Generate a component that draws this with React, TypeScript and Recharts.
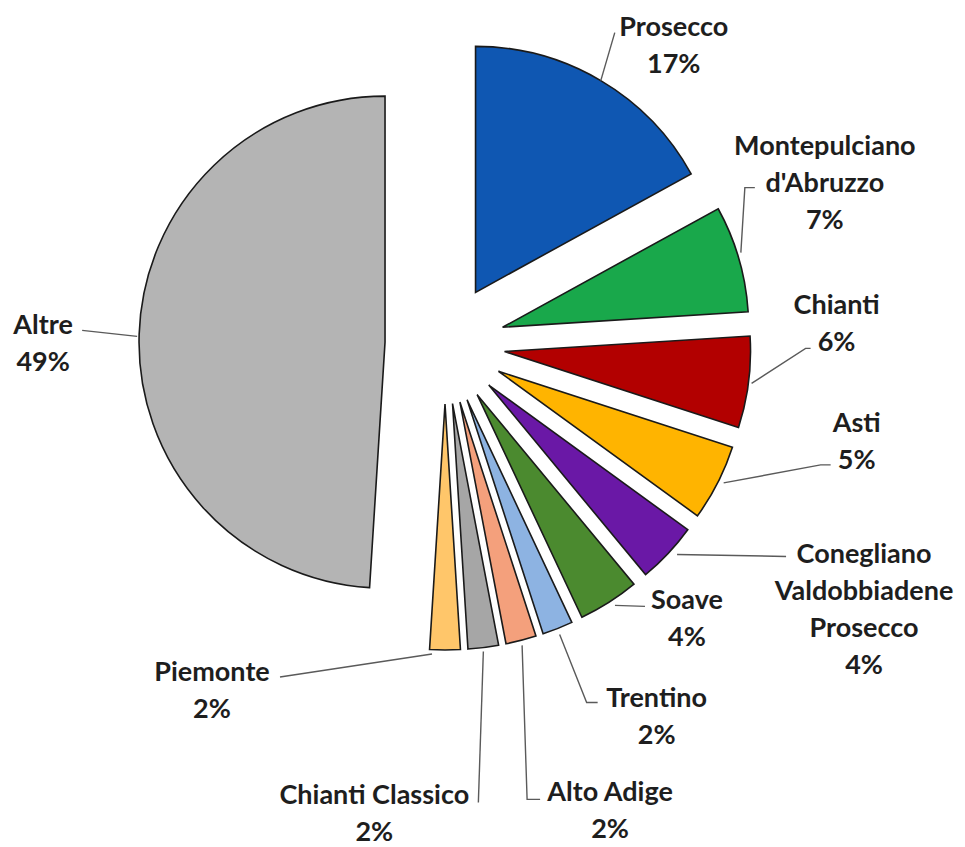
import { PieChart, Pie, Cell, Sector } from "recharts";

const CATEGORIES = [
  "Prosecco",
  "Montepulciano d'Abruzzo",
  "Chianti",
  "Asti",
  "Conegliano Valdobbiadene Prosecco",
  "Soave",
  "Trentino",
  "Alto Adige",
  "Chianti Classico",
  "Piemonte",
  "Altre",
];
const LABEL_LINES = [
  ["Prosecco"],
  ["Montepulciano", "d'Abruzzo"],
  ["Chianti"],
  ["Asti"],
  ["Conegliano", "Valdobbiadene", "Prosecco"],
  ["Soave"],
  ["Trentino"],
  ["Alto Adige"],
  ["Chianti Classico"],
  ["Piemonte"],
  ["Altre"],
];
const SHARES = [17, 7, 6, 5, 4, 4, 2, 2, 2, 2, 49];

const COLORS = [
  "#0f57b2", "#19a84b", "#b20000", "#ffb400", "#6a18a6", "#4b8a2f",
  "#8db3e2", "#f4a07c", "#a6a6a6", "#ffc66a", "#b4b4b4",
];

// label placement relative to the slice's outer mid point (text centre, leader points, leader end)
const LABEL_LAYOUT = [
  { text: [73, -55], leader: [[14, -48]], end: [0, 0] },
  { text: [86, -114], leader: [[16, -71], [6, -71]], end: [2, -6] },
  { text: [88, -79], leader: [[62, -34], [57, -34]], end: [3, 1] },
  { text: [139, -61], leader: [[113, -18], [103, -18]], end: [6, 0] },
  { text: [196, -1], leader: [[118, 3]], end: [9, 1] },
  { text: [78, -4], leader: [[36, 4]], end: [6, 3] },
  { text: [99, 68], leader: [[40, 74], [29, 74]], end: [2, 6] },
  { text: [89, 150], leader: [[19, 159], [6, 159]], end: [1, 5] },
  { text: [-109, 146], leader: [[-5, 155]], end: [0, 4] },
  { text: [-233, 20], leader: [[-165, 27]], end: [-13, 4] },
  { text: [-96, -11], leader: [[-57, -4]], end: [-2, 2] },
];

const RADIAN = Math.PI / 180;
const EXPLODE = 60;
const LINE_H = 37;
const FONT = "Lato, 'Open Sans', sans-serif";

const data = CATEGORIES.map((name, i) => ({ name, value: SHARES[i] }));

function explode(midAngle: number) {
  return [EXPLODE * Math.cos(-midAngle * RADIAN), EXPLODE * Math.sin(-midAngle * RADIAN)];
}

function ExplodedSector(props: any) {
  const [dx, dy] = explode(props.midAngle);
  return <Sector {...props} cx={props.cx + dx} cy={props.cy + dy} />;
}

function renderLabel(props: any) {
  const { cx, cy, midAngle, outerRadius, index, percent } = props;
  const [ox, oy] = explode(midAngle);
  const px = cx + ox + outerRadius * Math.cos(-midAngle * RADIAN);
  const py = cy + oy + outerRadius * Math.sin(-midAngle * RADIAN);
  const layout = LABEL_LAYOUT[index];
  const lines = [...LABEL_LINES[index], `${Math.round(percent * 100)}%`];
  const pts = [...layout.leader, layout.end].map(([dx, dy]) => `${px + dx},${py + dy}`).join(" ");
  return (
    <g key={`lbl-${index}`}>
      <polyline points={pts} fill="none" stroke="#5a5a5a" strokeWidth={1.4} />
      {lines.map((l, i) => (
        <text
          key={i}
          x={px + layout.text[0]}
          y={py + layout.text[1] + i * LINE_H}
          textAnchor="middle"
          dominantBaseline="central"
          fontFamily={FONT}
          fontWeight={700}
          fontSize={27}
          fill="#1e1e1e"
        >
          {l}
        </text>
      ))}
    </g>
  );
}

export default function App() {
  return (
    <div style={{ width: 965, height: 847, background: "#fff" }}>
      <style>{"body{margin:0}"}</style>
      <PieChart width={965} height={847} margin={{ top: 0, right: 0, bottom: 0, left: 0 }}>
        <Pie
          data={data}
          dataKey="value"
          nameKey="name"
          cx={445}
          cy={344}
          outerRadius={246}
          startAngle={90}
          endAngle={-270}
          stroke="#1a1a1a"
          strokeWidth={1.6}
          shape={ExplodedSector}
          label={renderLabel}
          labelLine={false}
          isAnimationActive={false}
        >
          {data.map((d, i) => (
            <Cell key={d.name} fill={COLORS[i]} />
          ))}
        </Pie>
      </PieChart>
    </div>
  );
}
